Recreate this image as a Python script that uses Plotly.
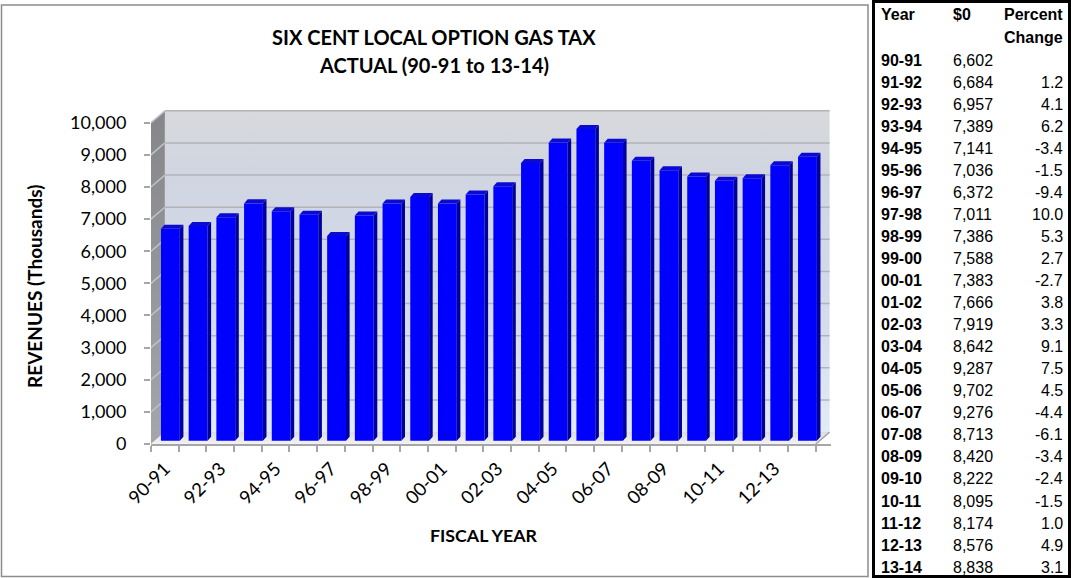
import plotly.graph_objects as go

# ---- data -------------------------------------------------------------
years = ["90-91", "91-92", "92-93", "93-94", "94-95", "95-96", "96-97", "97-98",
         "98-99", "99-00", "00-01", "01-02", "02-03", "03-04", "04-05", "05-06",
         "06-07", "07-08", "08-09", "09-10", "10-11", "11-12", "12-13", "13-14"]
revenues = [6602, 6684, 6957, 7389, 7141, 7036, 6372, 7011, 7386, 7588, 7383, 7666,
            7919, 8642, 9287, 9702, 9276, 8713, 8420, 8222, 8095, 8174, 8576, 8838]
pct_change = [None, 1.2, 4.1, 6.2, -3.4, -1.5, -9.4, 10.0, 5.3, 2.7, -2.7, 3.8,
              3.3, 9.1, 7.5, 4.5, -4.4, -6.1, -3.4, -2.4, -1.5, 1.0, 4.9, 3.1]
y_ticks = [0, 1000, 2000, 3000, 4000, 5000, 6000, 7000, 8000, 9000, 10000]
x_label_years = years[::2]

title_lines = ["SIX CENT LOCAL OPTION GAS TAX", "ACTUAL (90-91 to 13-14)"]
table_header = ["Year", "$0", "Percent", "Change"]

# ---- page geometry (pixels) -------------------------------------------
W, H = 1071, 578
CHART_FONT = "Lato"
TABLE_FONT = "Liberation Sans"

n = len(years)
DX = 0.5          # depth of the pseudo-3D box, in category units
DY = 370          # depth of the pseudo-3D box, in value units
X_RANGE = [-0.5, n + 0.05]
Y_RANGE = [0, 10400]
PLOT_L, PLOT_R = 151, 831
PLOT_B = 444
PLOT_T = PLOT_B - (Y_RANGE[1] - Y_RANGE[0]) * 0.03213

BAR_SHIFT = 0.2   # bars sit a little way into the box
BAR_W = 0.68
BAR_BASE = 100
FACE_DX = 0.13    # side face width (category units)
FACE_DY = 125     # top face height (value units)


def px(x):
    return x / W


def py(y):
    return 1 - y / H


fig = go.Figure()

# ---- box: back wall, side wall, floor (base subplot) ------------------
back_top = y_ticks[-1] + DY
x_back_r = n - 0.5 + DX
fig.add_trace(go.Scatter(
    x=[DX - 0.5, x_back_r, x_back_r, DX - 0.5, DX - 0.5],
    y=[DY, DY, back_top, back_top, DY],
    mode="lines", line=dict(width=0), fill="toself",
    fillgradient=dict(type="vertical",
                      colorscale=[[0, "#e2eaf7"], [0.45, "#d1d9ea"],
                                  [0.8, "#d0d5e1"], [1, "#d8d9dc"]]),
    hoverinfo="skip", showlegend=False))
fig.add_trace(go.Scatter(
    x=[-0.5, DX - 0.5, DX - 0.5, -0.5, -0.5],
    y=[0, DY, back_top, y_ticks[-1], 0],
    mode="lines", line=dict(width=0), fill="toself",
    fillgradient=dict(type="vertical",
                      colorscale=[[0, "#a4a6aa"], [1, "#84868a"]]),
    hoverinfo="skip", showlegend=False))
fig.add_trace(go.Scatter(
    x=[-0.5, n - 0.5, x_back_r, DX - 0.5, -0.5],
    y=[0, 0, DY, DY, 0],
    mode="lines", line=dict(width=0), fill="toself",
    fillgradient=dict(type="vertical",
                      colorscale=[[0, "#f2f2f3"], [1, "#dcdde0"]]),
    hoverinfo="skip", showlegend=False))

# gridlines carried onto the side wall and the back wall
side_x, side_y, back_x, back_y = [], [], [], []
for v in y_ticks[1:]:
    side_x += [-0.5, DX - 0.5, None]
    side_y += [v, v + DY, None]
    back_x += [DX - 0.5, x_back_r, None]
    back_y += [v + DY, v + DY, None]
fig.add_trace(go.Scatter(x=side_x, y=side_y, mode="lines",
                         line=dict(color="#bfc2c6", width=1.5),
                         hoverinfo="skip", showlegend=False))
fig.add_trace(go.Scatter(x=back_x, y=back_y, mode="lines",
                         line=dict(color="#b3b3b6", width=1.5),
                         hoverinfo="skip", showlegend=False))
# right edge of the floor
fig.add_trace(go.Scatter(x=[n - 0.5, x_back_r], y=[0, DY], mode="lines",
                         line=dict(color="#a6a6a6", width=1.5),
                         hoverinfo="skip", showlegend=False))

# ---- bars (overlay subplot so they sit above the box) ----------------
bar_x = [i + BAR_SHIFT for i in range(n)]
fig.add_trace(go.Bar(
    x=bar_x, y=revenues, base=BAR_BASE, width=BAR_W,
    marker=dict(color="#0000ff", line=dict(width=0)),
    xaxis="x2", yaxis="y2", showlegend=False,
    customdata=years, hovertemplate="%{customdata}: %{y:,}<extra></extra>"))

side_fx, side_fy, top_fx, top_fy = [], [], [], []
for xc, v in zip(bar_x, revenues):
    xl, xr = xc - BAR_W / 2, xc + BAR_W / 2
    top = BAR_BASE + v
    side_fx += [xr, xr + FACE_DX, xr + FACE_DX, xr, xr, None]
    side_fy += [BAR_BASE, BAR_BASE + FACE_DY, top + FACE_DY, top, BAR_BASE, None]
    top_fx += [xl, xr, xr + FACE_DX, xl + FACE_DX, xl, None]
    top_fy += [top, top, top + FACE_DY, top + FACE_DY, top, None]
fig.add_trace(go.Scatter(x=side_fx, y=side_fy, mode="lines", line=dict(width=0),
                         fill="toself", fillcolor="#00009c",
                         xaxis="x2", yaxis="y2", hoverinfo="skip", showlegend=False))
fig.add_trace(go.Scatter(x=top_fx, y=top_fy, mode="lines", line=dict(width=0),
                         fill="toself", fillcolor="#0a0ad2",
                         xaxis="x2", yaxis="y2", hoverinfo="skip", showlegend=False))

# ---- axes -------------------------------------------------------------
x_dom = [px(PLOT_L), px(PLOT_R)]
y_dom = [py(PLOT_B), py(PLOT_T)]
fig.update_layout(
    width=W, height=H,
    margin=dict(l=0, r=0, t=0, b=0),
    paper_bgcolor="white", plot_bgcolor="rgba(0,0,0,0)",
    showlegend=False,
    xaxis=dict(
        domain=x_dom, range=X_RANGE, automargin=False,
        tickmode="array", tickvals=list(range(0, n, 2)), ticktext=x_label_years,
        tickangle=-45, ticks="", showgrid=False, zeroline=False,
        ticklabelstandoff=5,
        showline=True, linecolor="#a6a6a6", linewidth=1.5,
        tickfont=dict(family=CHART_FONT, size=18.5, color="black"),
        minor=dict(tickmode="linear", tick0=-0.5, dtick=1, ticks="outside",
                   ticklen=6, tickwidth=1.5, tickcolor="#a6a6a6", showgrid=False),
    ),
    yaxis=dict(
        domain=y_dom, range=Y_RANGE, automargin=False,
        tickmode="array", tickvals=y_ticks,
        ticktext=[f"{v:,}" for v in y_ticks],
        ticks="outside", ticklen=6, tickwidth=1.5, tickcolor="#a6a6a6",
        ticklabelstandoff=14,
        showgrid=False, zeroline=False, showline=False,
        tickfont=dict(family=CHART_FONT, size=18, color="black"),
    ),
    xaxis2=dict(overlaying="x", range=X_RANGE, visible=False, domain=x_dom),
    yaxis2=dict(overlaying="y", range=Y_RANGE, visible=False, domain=y_dom),
)

# ---- frames -----------------------------------------------------------
fig.add_shape(type="rect", xref="paper", yref="paper",
              x0=px(1.5), x1=px(868), y0=py(576.5), y1=py(5),
              line=dict(color="#8c8c8c", width=1.5))
fig.add_shape(type="rect", xref="paper", yref="paper",
              x0=px(873.5), x1=px(1069.5), y0=py(576.5), y1=py(1.5),
              line=dict(color="black", width=3))

# ---- chart titles -----------------------------------------------------
for text, y in zip(title_lines, [37, 65]):
    fig.add_annotation(text=f"<b>{text}</b>", xref="paper", yref="paper",
                       x=px(434), y=py(y), xanchor="center", yanchor="middle",
                       showarrow=False,
                       font=dict(family=CHART_FONT, size=20, color="black"))
fig.add_annotation(text="<b>FISCAL YEAR</b>", xref="paper", yref="paper",
                   x=px(483.5), y=py(535), xanchor="center", yanchor="middle",
                   showarrow=False, font=dict(family=CHART_FONT, size=17.8, color="black"))
fig.add_annotation(text="<b>REVENUES (Thousands)</b>", xref="paper", yref="paper",
                   x=px(35), y=py(287), xanchor="center", yanchor="middle",
                   textangle=-90, showarrow=False,
                   font=dict(family=CHART_FONT, size=19, color="black"))

# ---- data table -------------------------------------------------------
COL_YEAR, COL_VAL, COL_PCT = 879, 951, 1065
tfont = dict(family=TABLE_FONT, size=16, color="black")


def cell(text, x, y, anchor):
    fig.add_annotation(text=text, xref="paper", yref="paper", x=px(x), y=py(y),
                       xanchor=anchor, yanchor="middle", showarrow=False, font=tfont)


cell(f"<b>{table_header[0]}</b>", COL_YEAR, 15, "left")
cell(f"<b>{table_header[1]}</b>", COL_VAL, 15, "left")
cell(f"<b>{table_header[2]}</b>", COL_PCT, 15, "right")
cell(f"<b>{table_header[3]}</b>", COL_PCT, 37.5, "right")
for i, (yr, v, p) in enumerate(zip(years, revenues, pct_change)):
    y = 60 + 22.05 * i
    cell(f"<b>{yr}</b>", COL_YEAR, y, "left")
    cell(f"{v:,}", COL_VAL, y, "left")
    if p is not None:
        cell(f"{p:.1f}", COL_PCT, y, "right")

fig.write_html("out.html")
